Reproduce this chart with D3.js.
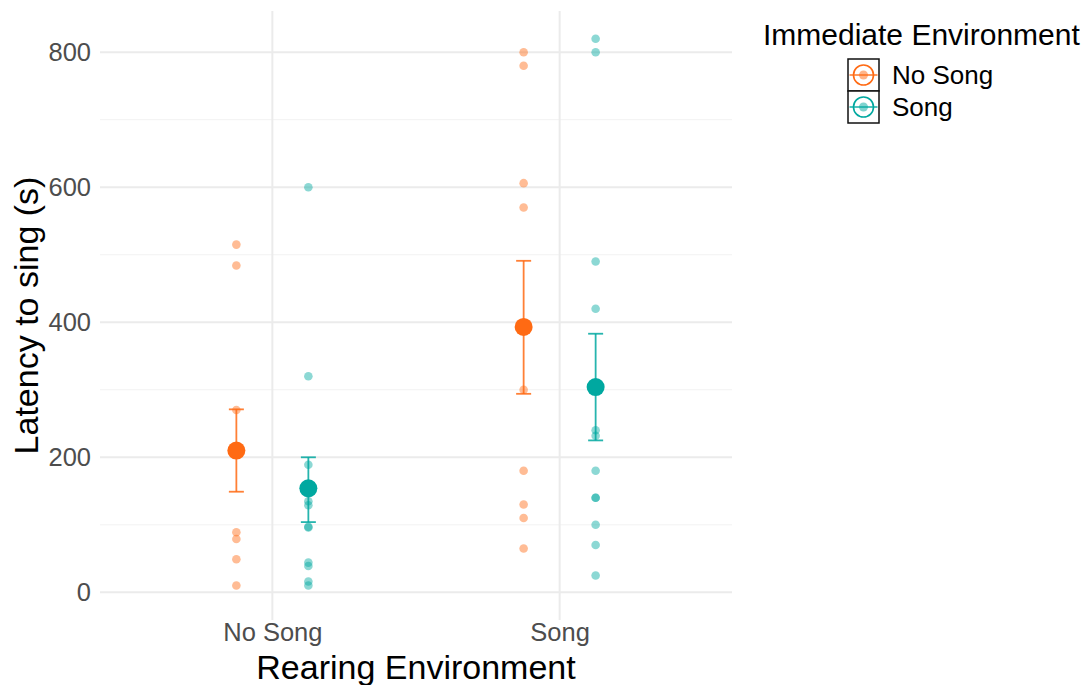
<!DOCTYPE html>
<html><head><meta charset="utf-8">
<script src="https://cdn.jsdelivr.net/npm/d3@7"></script>
<style>body{margin:0;background:#fff;} svg{display:block;font-family:"Liberation Sans",Arial,sans-serif;}</style>
</head><body><svg id="c" width="1086" height="685"></svg>
<script>
const rearing = ["No Song", "Song"];
const immediate = ["No Song", "Song"];
const colors = ["#FF6A13", "#00A8A0"];
const yTicks = [0, 200, 400, 600, 800];
const yMinor = [100, 300, 500, 700];
// raw observations [rearing][immediate]
const rawNoNo = [515, 484, 270, 89, 79, 49, 10];
const rawNoSong = [600, 320, 189, 135, 129, 97, 96, 44, 39, 16, 10];
const rawSongNo = [800, 780, 606, 570, 300, 180, 130, 110, 65];
const rawSongSong = [820, 800, 490, 420, 240, 232, 180, 140, 140, 100, 70, 25];
// means and error bar limits
const means = [[210, 154], [393, 304]];
const errLow = [[149, 104], [294, 225]];
const errHigh = [[271, 200], [491, 383]];

const raw = [[rawNoNo, rawNoSong], [rawSongNo, rawSongSong]];
const svg = d3.select("#c");
const pl = 100, pr = 732, pt = 11, pb = 620;
const y = d3.scaleLinear().domain([-41, 861]).range([pb, pt]);
const x = d3.scalePoint().domain(rearing).range([pl, pr]).padding(0.6);
const xc = d => x(d);
const dodge = d3.scalePoint().domain(immediate).range([-36, 36]);
const off = g => dodge(g);
const FONT = "Liberation Sans, Arial, sans-serif";

const grid = svg.append("g");
yMinor.forEach(v => grid.append("line").attr("x1", pl).attr("x2", pr).attr("y1", y(v)).attr("y2", y(v)).attr("stroke", "#f2f2f2").attr("stroke-width", 1));
yTicks.forEach(v => grid.append("line").attr("x1", pl).attr("x2", pr).attr("y1", y(v)).attr("y2", y(v)).attr("stroke", "#ebebeb").attr("stroke-width", 2));
rearing.forEach(r => grid.append("line").attr("x1", xc(r)).attr("x2", xc(r)).attr("y1", pt).attr("y2", pb).attr("stroke", "#ebebeb").attr("stroke-width", 2));

// axes
const ya = svg.append("g").attr("transform", `translate(${pl},0)`).call(d3.axisLeft(y).tickValues(yTicks).tickSize(0).tickPadding(9));
ya.select(".domain").remove();
ya.selectAll("text").attr("font-size", 25.5).attr("fill", "#4d4d4d").attr("font-family", FONT);
const xa = svg.append("g").attr("transform", `translate(0,${pb})`).call(d3.axisBottom(x).tickSize(0).tickPadding(3));
xa.select(".domain").remove();
xa.selectAll("text").attr("font-size", 25.5).attr("fill", "#4d4d4d").attr("font-family", FONT);

svg.append("text").attr("transform", `translate(38,${(pt + pb) / 2}) rotate(-90)`).attr("text-anchor", "middle")
  .attr("font-size", 34).attr("fill", "#000").text("Latency to sing (s)");
svg.append("text").attr("x", (pl + pr) / 2).attr("y", 679).attr("text-anchor", "middle")
  .attr("font-size", 34).attr("fill", "#000").text("Rearing Environment");

// raw points
rearing.forEach((r, i) => immediate.forEach((g, j) => {
  svg.append("g").selectAll("circle").data(raw[i][j]).join("circle")
    .attr("cx", xc(r) + off(g)).attr("cy", d => y(d)).attr("r", 4.3)
    .attr("fill", colors[j]).attr("fill-opacity", 0.45);
}));
// error bars and means
rearing.forEach((r, i) => immediate.forEach((g, j) => {
  const cx = xc(r) + off(g);
  const e = svg.append("g").attr("stroke", colors[j]).attr("stroke-width", 1.8).attr("stroke-opacity", 0.85);
  e.append("line").attr("x1", cx).attr("x2", cx).attr("y1", y(errLow[i][j])).attr("y2", y(errHigh[i][j]));
  e.append("line").attr("x1", cx - 7.5).attr("x2", cx + 7.5).attr("y1", y(errLow[i][j])).attr("y2", y(errLow[i][j]));
  e.append("line").attr("x1", cx - 7.5).attr("x2", cx + 7.5).attr("y1", y(errHigh[i][j])).attr("y2", y(errHigh[i][j]));
  svg.append("circle").attr("cx", cx).attr("cy", y(means[i][j])).attr("r", 9).attr("fill", colors[j]);
}));

// legend
svg.append("text").attr("x", 763).attr("y", 45).attr("font-size", 30).attr("fill", "#000").text("Immediate Environment");
immediate.forEach((g, j) => {
  const ky = 59 + j * 32;
  const lg = svg.append("g");
  lg.append("rect").attr("x", 848).attr("y", ky).attr("width", 31).attr("height", 32).attr("fill", "#fff").attr("stroke", "#111").attr("stroke-width", 1.5);
  const cx = 863.5, cy = ky + 16;
  lg.append("line").attr("x1", cx - 14).attr("x2", cx + 14).attr("y1", cy).attr("y2", cy).attr("stroke", colors[j]).attr("stroke-width", 1.6).attr("stroke-opacity", 0.85);
  lg.append("circle").attr("cx", cx).attr("cy", cy).attr("r", 10).attr("fill", "none").attr("stroke", colors[j]).attr("stroke-width", 1.6);
  lg.append("circle").attr("cx", cx).attr("cy", cy).attr("r", 4.5).attr("fill", colors[j]).attr("fill-opacity", 0.5);
  lg.append("text").attr("x", 892).attr("y", cy + 9).attr("font-size", 26).attr("fill", "#000").text(g);
});
</script></body></html>
